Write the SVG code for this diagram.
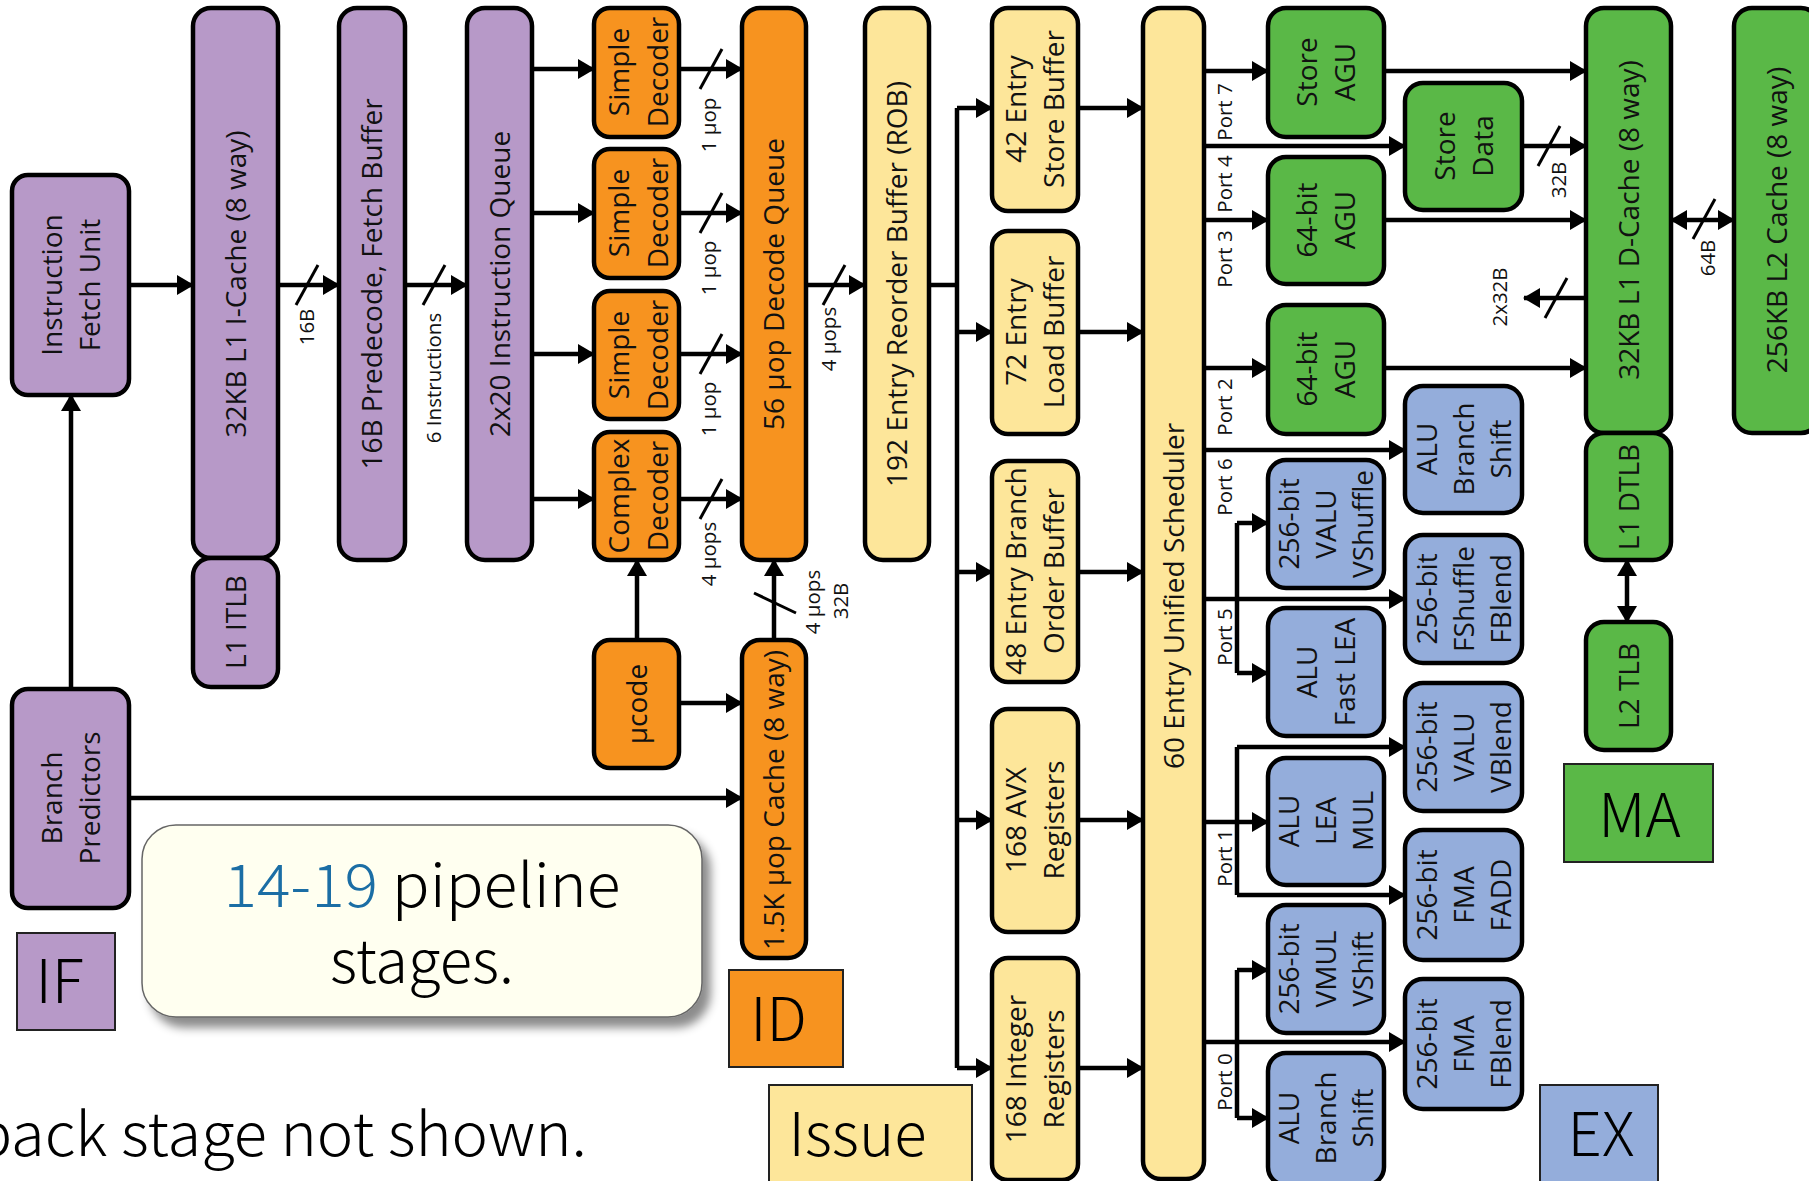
<svg xmlns="http://www.w3.org/2000/svg" width="1809" height="1181" viewBox="0 0 1809 1181">
<style>
  .box{stroke:#000;stroke-width:4.5}
  .p{fill:#b799c8}
  .o{fill:#f7931f}
  .y{fill:#fde69a}
  .g{fill:#5ab847}
  .b{fill:#94addb}
  .n{font-family:"Open Sans","Noto Sans",sans-serif;font-size:28px;fill:#111}
  .s{font-family:"Open Sans","Noto Sans",sans-serif;font-size:20.5px;fill:#111}
  .c{fill:none;stroke:#000;stroke-width:4.5}
  .a{marker-end:url(#ah)}
  .sl{stroke:#000;stroke-width:3}
  .stg{stroke:#222;stroke-width:2}
  .big{font-family:"Noto Sans CJK SC","Noto Sans",sans-serif;font-weight:300;font-size:60px;fill:#000}
</style>
<defs>
  <marker id="ah" markerWidth="17" markerHeight="20" refX="16" refY="10" orient="auto-start-reverse" markerUnits="userSpaceOnUse">
    <path d="M0,0 L17,10 L0,20 z" fill="#000"/>
  </marker>
  <filter id="sh" x="-10%" y="-10%" width="125%" height="135%">
    <feDropShadow dx="8" dy="10" stdDeviation="5" flood-color="#000" flood-opacity="0.45"/>
  </filter>
</defs>

<rect width="1809" height="1181" fill="#fff"/>

<!-- connectors -->
<g id="connectors">
  <path class="c a" d="M129,285 H193"/>
  <path class="c a" d="M278,285 H339"/>
  <path class="c a" d="M405,285 H467"/>
  <path class="c a" d="M532,69 H594"/>
  <path class="c a" d="M532,213 H594"/>
  <path class="c a" d="M532,354 H594"/>
  <path class="c a" d="M532,499 H594"/>
  <path class="c a" d="M679,69 H742"/>
  <path class="c a" d="M679,213 H742"/>
  <path class="c a" d="M679,354 H742"/>
  <path class="c a" d="M679,499 H742"/>
  <path class="c a" d="M71,689 V395"/>
  <path class="c a" d="M129,798 H742"/>
  <path class="c a" d="M637,640 V560"/>
  <path class="c a" d="M679,703 H742"/>
  <path class="c a" d="M774,640 V560"/>
  <path class="c a" d="M806,285 H865"/>
  <path class="c" d="M929,285 H957 M957,108 V1068"/>
  <path class="c a" d="M957,108 H992"/>
  <path class="c a" d="M957,332 H992"/>
  <path class="c a" d="M957,572 H992"/>
  <path class="c a" d="M957,820 H992"/>
  <path class="c a" d="M957,1068 H992"/>
  <path class="c a" d="M1078,108 H1143"/>
  <path class="c a" d="M1078,332 H1143"/>
  <path class="c a" d="M1078,572 H1143"/>
  <path class="c a" d="M1078,820 H1143"/>
  <path class="c a" d="M1078,1068 H1143"/>
  <!-- scheduler ports -->
  <path class="c a" d="M1204,71 H1268"/>
  <path class="c a" d="M1204,146 H1405"/>
  <path class="c a" d="M1204,220 H1268"/>
  <path class="c a" d="M1204,368 H1268"/>
  <path class="c a" d="M1204,450 H1405"/>
  <path class="c a" d="M1204,599 H1405"/>
  <path class="c" d="M1237,523 V673"/>
  <path class="c a" d="M1237,523 H1268"/>
  <path class="c a" d="M1237,673 H1268"/>
  <path class="c a" d="M1204,822 H1268"/>
  <path class="c" d="M1237,747 V895"/>
  <path class="c a" d="M1237,747 H1405"/>
  <path class="c a" d="M1237,895 H1405"/>
  <path class="c a" d="M1204,1042 H1405"/>
  <path class="c" d="M1237,970 V1118"/>
  <path class="c a" d="M1237,970 H1268"/>
  <path class="c a" d="M1237,1118 H1268"/>
  <!-- memory side -->
  <path class="c a" d="M1384,71 H1586"/>
  <path class="c a" d="M1522,146 H1586"/>
  <path class="c a" d="M1384,220 H1586"/>
  <path class="c a" d="M1384,368 H1586"/>
  <path class="c a" d="M1586,298 H1524"/>
  <path class="c a" d="M1671,220 H1734" marker-start="url(#ah)"/>
  <path class="c a" d="M1627,560 V622" marker-start="url(#ah)"/>
  <!-- bus-width slashes -->
  <line class="sl" x1="296" y1="305" x2="318" y2="265"/>
  <line class="sl" x1="423" y1="305" x2="445" y2="265"/>
  <line class="sl" x1="700" y1="89" x2="722" y2="49"/>
  <line class="sl" x1="700" y1="233" x2="722" y2="193"/>
  <line class="sl" x1="700" y1="374" x2="722" y2="334"/>
  <line class="sl" x1="700" y1="519" x2="722" y2="479"/>
  <line class="sl" x1="823" y1="305" x2="845" y2="265"/>
  <line class="sl" x1="754" y1="593" x2="796" y2="613"/>
  <line class="sl" x1="1538" y1="166" x2="1560" y2="126"/>
  <line class="sl" x1="1545" y1="318" x2="1567" y2="278"/>
  <line class="sl" x1="1693" y1="239" x2="1715" y2="199"/>
  <!-- bus-width labels -->
  <text class="s" text-anchor="middle" transform="translate(314,327) rotate(-90)">16B</text>
  <text class="s" text-anchor="middle" transform="translate(441,378) rotate(-90)">6 Instructions</text>
  <text class="s" text-anchor="middle" transform="translate(716,125) rotate(-90)">1 µop</text>
  <text class="s" text-anchor="middle" transform="translate(716,268) rotate(-90)">1 µop</text>
  <text class="s" text-anchor="middle" transform="translate(716,409) rotate(-90)">1 µop</text>
  <text class="s" text-anchor="middle" transform="translate(716,554) rotate(-90)">4 µops</text>
  <text class="s" text-anchor="middle" transform="translate(836,339) rotate(-90)">4 µops</text>
  <text class="s" text-anchor="middle" transform="translate(820,602) rotate(-90)">4 µops</text>
  <text class="s" text-anchor="middle" transform="translate(848,601) rotate(-90)">32B</text>
  <text class="s" text-anchor="middle" transform="translate(1566,180) rotate(-90)">32B</text>
  <text class="s" text-anchor="middle" transform="translate(1715,258) rotate(-90)">64B</text>
  <text class="s" text-anchor="middle" transform="translate(1507,297) rotate(-90)">2x32B</text>
  <text class="s" text-anchor="middle" transform="translate(1232,112) rotate(-90)">Port 7</text>
  <text class="s" text-anchor="middle" transform="translate(1232,184) rotate(-90)">Port 4</text>
  <text class="s" text-anchor="middle" transform="translate(1232,259) rotate(-90)">Port 3</text>
  <text class="s" text-anchor="middle" transform="translate(1232,407) rotate(-90)">Port 2</text>
  <text class="s" text-anchor="middle" transform="translate(1232,487) rotate(-90)">Port 6</text>
  <text class="s" text-anchor="middle" transform="translate(1232,637) rotate(-90)">Port 5</text>
  <text class="s" text-anchor="middle" transform="translate(1232,858) rotate(-90)">Port 1</text>
  <text class="s" text-anchor="middle" transform="translate(1232,1082) rotate(-90)">Port 0</text>
</g>

<!-- front end -->
<g id="ifu"><rect class="box p" x="12" y="175" width="117" height="220" rx="16"/>
  <text class="n" text-anchor="middle" transform="translate(70.5,285) rotate(-90)"><tspan x="0" y="-9">Instruction</tspan><tspan x="0" y="29">Fetch Unit</tspan></text></g>
<g id="bp"><rect class="box p" x="12" y="689" width="117" height="219" rx="16"/>
  <text class="n" text-anchor="middle" transform="translate(70.5,798) rotate(-90)"><tspan x="0" y="-9">Branch</tspan><tspan x="0" y="29">Predictors</tspan></text></g>
<g id="icache"><rect class="box p" x="193" y="8" width="85" height="550" rx="18"/>
  <text class="n" text-anchor="middle" transform="translate(235.5,284) rotate(-90)"><tspan x="0" y="10">32KB L1 I-Cache (8 way)</tspan></text></g>
<g id="itlb"><rect class="box p" x="193" y="558" width="85" height="129" rx="18"/>
  <text class="n" text-anchor="middle" transform="translate(235.5,622) rotate(-90)"><tspan x="0" y="10">L1 ITLB</tspan></text></g>
<g id="predecode"><rect class="box p" x="339" y="8" width="66" height="552" rx="18"/>
  <text class="n" text-anchor="middle" transform="translate(372,284) rotate(-90)"><tspan x="0" y="10">16B Predecode, Fetch Buffer</tspan></text></g>
<g id="iq"><rect class="box p" x="467" y="8" width="65" height="552" rx="18"/>
  <text class="n" text-anchor="middle" transform="translate(499.5,284) rotate(-90)"><tspan x="0" y="10">2x20 Instruction Queue</tspan></text></g>

<!-- decode -->
<g id="dec1"><rect class="box o" x="594" y="8" width="85" height="129" rx="16"/>
  <text class="n" text-anchor="middle" transform="translate(636.5,72) rotate(-90)"><tspan x="0" y="-8">Simple</tspan><tspan x="0" y="31">Decoder</tspan></text></g>
<g id="dec2"><rect class="box o" x="594" y="149" width="85" height="129" rx="16"/>
  <text class="n" text-anchor="middle" transform="translate(636.5,213) rotate(-90)"><tspan x="0" y="-8">Simple</tspan><tspan x="0" y="31">Decoder</tspan></text></g>
<g id="dec3"><rect class="box o" x="594" y="291" width="85" height="128" rx="16"/>
  <text class="n" text-anchor="middle" transform="translate(636.5,355) rotate(-90)"><tspan x="0" y="-8">Simple</tspan><tspan x="0" y="31">Decoder</tspan></text></g>
<g id="cdec"><rect class="box o" x="594" y="432" width="85" height="128" rx="16"/>
  <text class="n" text-anchor="middle" transform="translate(636.5,496) rotate(-90)"><tspan x="0" y="-8">Complex</tspan><tspan x="0" y="31">Decoder</tspan></text></g>
<g id="ucode"><rect class="box o" x="594" y="640" width="85" height="128" rx="16"/>
  <text class="n" text-anchor="middle" transform="translate(636.5,704) rotate(-90)"><tspan x="0" y="10">µcode</tspan></text></g>
<g id="dq"><rect class="box o" x="742" y="8" width="64" height="552" rx="18"/>
  <text class="n" text-anchor="middle" transform="translate(774,284) rotate(-90)"><tspan x="0" y="10">56 µop Decode Queue</tspan></text></g>
<g id="uopcache"><rect class="box o" x="742" y="640" width="64" height="318" rx="18"/>
  <text class="n" text-anchor="middle" transform="translate(774,800) rotate(-90)"><tspan x="0" y="10">1.5K µop Cache (8 way)</tspan></text></g>

<!-- rename / issue -->
<g id="rob"><rect class="box y" x="865" y="8" width="64" height="552" rx="18"/>
  <text class="n" text-anchor="middle" transform="translate(897,284) rotate(-90)"><tspan x="0" y="10">192 Entry Reorder Buffer (ROB)</tspan></text></g>
<g id="sb"><rect class="box y" x="992" y="8" width="86" height="203" rx="16"/>
  <text class="n" text-anchor="middle" transform="translate(1035,109) rotate(-90)"><tspan x="0" y="-9">42 Entry</tspan><tspan x="0" y="29">Store Buffer</tspan></text></g>
<g id="lb"><rect class="box y" x="992" y="231" width="86" height="203" rx="16"/>
  <text class="n" text-anchor="middle" transform="translate(1035,332) rotate(-90)"><tspan x="0" y="-9">72 Entry</tspan><tspan x="0" y="29">Load Buffer</tspan></text></g>
<g id="bob"><rect class="box y" x="992" y="461" width="86" height="221" rx="16"/>
  <text class="n" text-anchor="middle" transform="translate(1035,571) rotate(-90)"><tspan x="0" y="-9">48 Entry Branch</tspan><tspan x="0" y="29">Order Buffer</tspan></text></g>
<g id="avx"><rect class="box y" x="992" y="709" width="86" height="223" rx="16"/>
  <text class="n" text-anchor="middle" transform="translate(1035,820) rotate(-90)"><tspan x="0" y="-9">168 AVX</tspan><tspan x="0" y="29">Registers</tspan></text></g>
<g id="intreg"><rect class="box y" x="992" y="958" width="86" height="222" rx="16"/>
  <text class="n" text-anchor="middle" transform="translate(1035,1069) rotate(-90)"><tspan x="0" y="-9">168 Integer</tspan><tspan x="0" y="29">Registers</tspan></text></g>
<g id="sched"><rect class="box y" x="1143" y="8" width="61" height="1171" rx="18"/>
  <text class="n" text-anchor="middle" transform="translate(1173.5,596) rotate(-90)"><tspan x="0" y="10">60 Entry Unified Scheduler</tspan></text></g>

<!-- execution units -->
<g id="sagu"><rect class="box g" x="1268" y="8" width="116" height="129" rx="18"/>
  <text class="n" text-anchor="middle" transform="translate(1326,72) rotate(-90)"><tspan x="0" y="-9">Store</tspan><tspan x="0" y="29">AGU</tspan></text></g>
<g id="sdata"><rect class="box g" x="1405" y="83" width="117" height="127" rx="18"/>
  <text class="n" text-anchor="middle" transform="translate(1463.5,146) rotate(-90)"><tspan x="0" y="-9">Store</tspan><tspan x="0" y="29">Data</tspan></text></g>
<g id="agu1"><rect class="box g" x="1268" y="157" width="116" height="127" rx="18"/>
  <text class="n" text-anchor="middle" transform="translate(1326,220) rotate(-90)"><tspan x="0" y="-9">64-bit</tspan><tspan x="0" y="29">AGU</tspan></text></g>
<g id="agu2"><rect class="box g" x="1268" y="305" width="116" height="129" rx="18"/>
  <text class="n" text-anchor="middle" transform="translate(1326,369) rotate(-90)"><tspan x="0" y="-9">64-bit</tspan><tspan x="0" y="29">AGU</tspan></text></g>
<g id="alu-branch-p6"><rect class="box b" x="1405" y="386" width="117" height="127" rx="18"/>
  <text class="n" text-anchor="middle" transform="translate(1463.5,449) rotate(-90)"><tspan x="0" y="-27">ALU</tspan><tspan x="0" y="10">Branch</tspan><tspan x="0" y="47">Shift</tspan></text></g>
<g id="valu-vshuffle"><rect class="box b" x="1268" y="460" width="116" height="128" rx="18"/>
  <text class="n" text-anchor="middle" transform="translate(1326,524) rotate(-90)"><tspan x="0" y="-27">256-bit</tspan><tspan x="0" y="10">VALU</tspan><tspan x="0" y="47">VShuffle</tspan></text></g>
<g id="fshuffle"><rect class="box b" x="1405" y="535" width="117" height="128" rx="18"/>
  <text class="n" text-anchor="middle" transform="translate(1463.5,599) rotate(-90)"><tspan x="0" y="-27">256-bit</tspan><tspan x="0" y="10">FShuffle</tspan><tspan x="0" y="47">FBlend</tspan></text></g>
<g id="alu-fastlea"><rect class="box b" x="1268" y="608" width="116" height="128" rx="18"/>
  <text class="n" text-anchor="middle" transform="translate(1326,672) rotate(-90)"><tspan x="0" y="-9">ALU</tspan><tspan x="0" y="29">Fast LEA</tspan></text></g>
<g id="valu-vblend"><rect class="box b" x="1405" y="683" width="117" height="128" rx="18"/>
  <text class="n" text-anchor="middle" transform="translate(1463.5,747) rotate(-90)"><tspan x="0" y="-27">256-bit</tspan><tspan x="0" y="10">VALU</tspan><tspan x="0" y="47">VBlend</tspan></text></g>
<g id="alu-lea-mul"><rect class="box b" x="1268" y="758" width="116" height="127" rx="18"/>
  <text class="n" text-anchor="middle" transform="translate(1326,821) rotate(-90)"><tspan x="0" y="-27">ALU</tspan><tspan x="0" y="10">LEA</tspan><tspan x="0" y="47">MUL</tspan></text></g>
<g id="fma-fadd"><rect class="box b" x="1405" y="830" width="117" height="130" rx="18"/>
  <text class="n" text-anchor="middle" transform="translate(1463.5,895) rotate(-90)"><tspan x="0" y="-27">256-bit</tspan><tspan x="0" y="10">FMA</tspan><tspan x="0" y="47">FADD</tspan></text></g>
<g id="vmul"><rect class="box b" x="1268" y="905" width="116" height="128" rx="18"/>
  <text class="n" text-anchor="middle" transform="translate(1326,969) rotate(-90)"><tspan x="0" y="-27">256-bit</tspan><tspan x="0" y="10">VMUL</tspan><tspan x="0" y="47">VShift</tspan></text></g>
<g id="fma-fblend"><rect class="box b" x="1405" y="979" width="117" height="130" rx="18"/>
  <text class="n" text-anchor="middle" transform="translate(1463.5,1044) rotate(-90)"><tspan x="0" y="-27">256-bit</tspan><tspan x="0" y="10">FMA</tspan><tspan x="0" y="47">FBlend</tspan></text></g>
<g id="alu-branch-p0"><rect class="box b" x="1268" y="1053" width="116" height="132" rx="18"/>
  <text class="n" text-anchor="middle" transform="translate(1326,1118) rotate(-90)"><tspan x="0" y="-27">ALU</tspan><tspan x="0" y="10">Branch</tspan><tspan x="0" y="47">Shift</tspan></text></g>

<!-- memory -->
<g id="l1d"><rect class="box g" x="1586" y="8" width="85" height="425" rx="18"/>
  <text class="n" text-anchor="middle" transform="translate(1628.5,220) rotate(-90)"><tspan x="0" y="10">32KB L1 D-Cache (8 way)</tspan></text></g>
<g id="dtlb"><rect class="box g" x="1586" y="433" width="85" height="127" rx="18"/>
  <text class="n" text-anchor="middle" transform="translate(1628.5,497) rotate(-90)"><tspan x="0" y="10">L1 DTLB</tspan></text></g>
<g id="l2tlb"><rect class="box g" x="1586" y="622" width="85" height="128" rx="18"/>
  <text class="n" text-anchor="middle" transform="translate(1628.5,686) rotate(-90)"><tspan x="0" y="10">L2 TLB</tspan></text></g>
<g id="l2"><rect class="box g" x="1734" y="8" width="85" height="425" rx="18"/>
  <text class="n" text-anchor="middle" transform="translate(1776.5,220) rotate(-90)"><tspan x="0" y="10">256KB L2 Cache (8 way)</tspan></text></g>

<!-- stage tags -->
<g id="tag-if"><rect class="stg p" x="17" y="933" width="98" height="97"/>
  <text class="big" x="59.5" y="1003" text-anchor="middle">IF</text></g>
<g id="tag-id"><rect class="stg o" x="729" y="970" width="114" height="97"/>
  <text class="big" x="778.5" y="1041" text-anchor="middle">ID</text></g>
<g id="tag-issue"><rect class="stg y" x="769" y="1085" width="203" height="110"/>
  <text class="big" x="857.5" y="1156" text-anchor="middle">Issue</text></g>
<g id="tag-ma"><rect class="stg g" x="1564" y="764" width="149" height="98"/>
  <text class="big" x="1639.5" y="837" text-anchor="middle">MA</text></g>
<g id="tag-ex"><rect class="stg b" x="1540" y="1085" width="118" height="110"/>
  <text class="big" x="1601" y="1156" text-anchor="middle">EX</text></g>

<!-- note -->
<g id="note">
  <rect x="142" y="825" width="560" height="192" rx="34" fill="#fffff0" stroke="#666" stroke-width="1.5" filter="url(#sh)"/>
  <text class="big" x="422" y="907" text-anchor="middle" font-size="62" textLength="397" lengthAdjust="spacingAndGlyphs"><tspan fill="#1b6ea5">14-19</tspan> pipeline</text>
  <text class="big" x="422" y="983" text-anchor="middle" font-size="62" textLength="184" lengthAdjust="spacingAndGlyphs">stages.</text>
</g>
<text class="big" x="-25" y="1156" font-size="60" textLength="612" lengthAdjust="spacingAndGlyphs">back stage not shown.</text>
</svg>
